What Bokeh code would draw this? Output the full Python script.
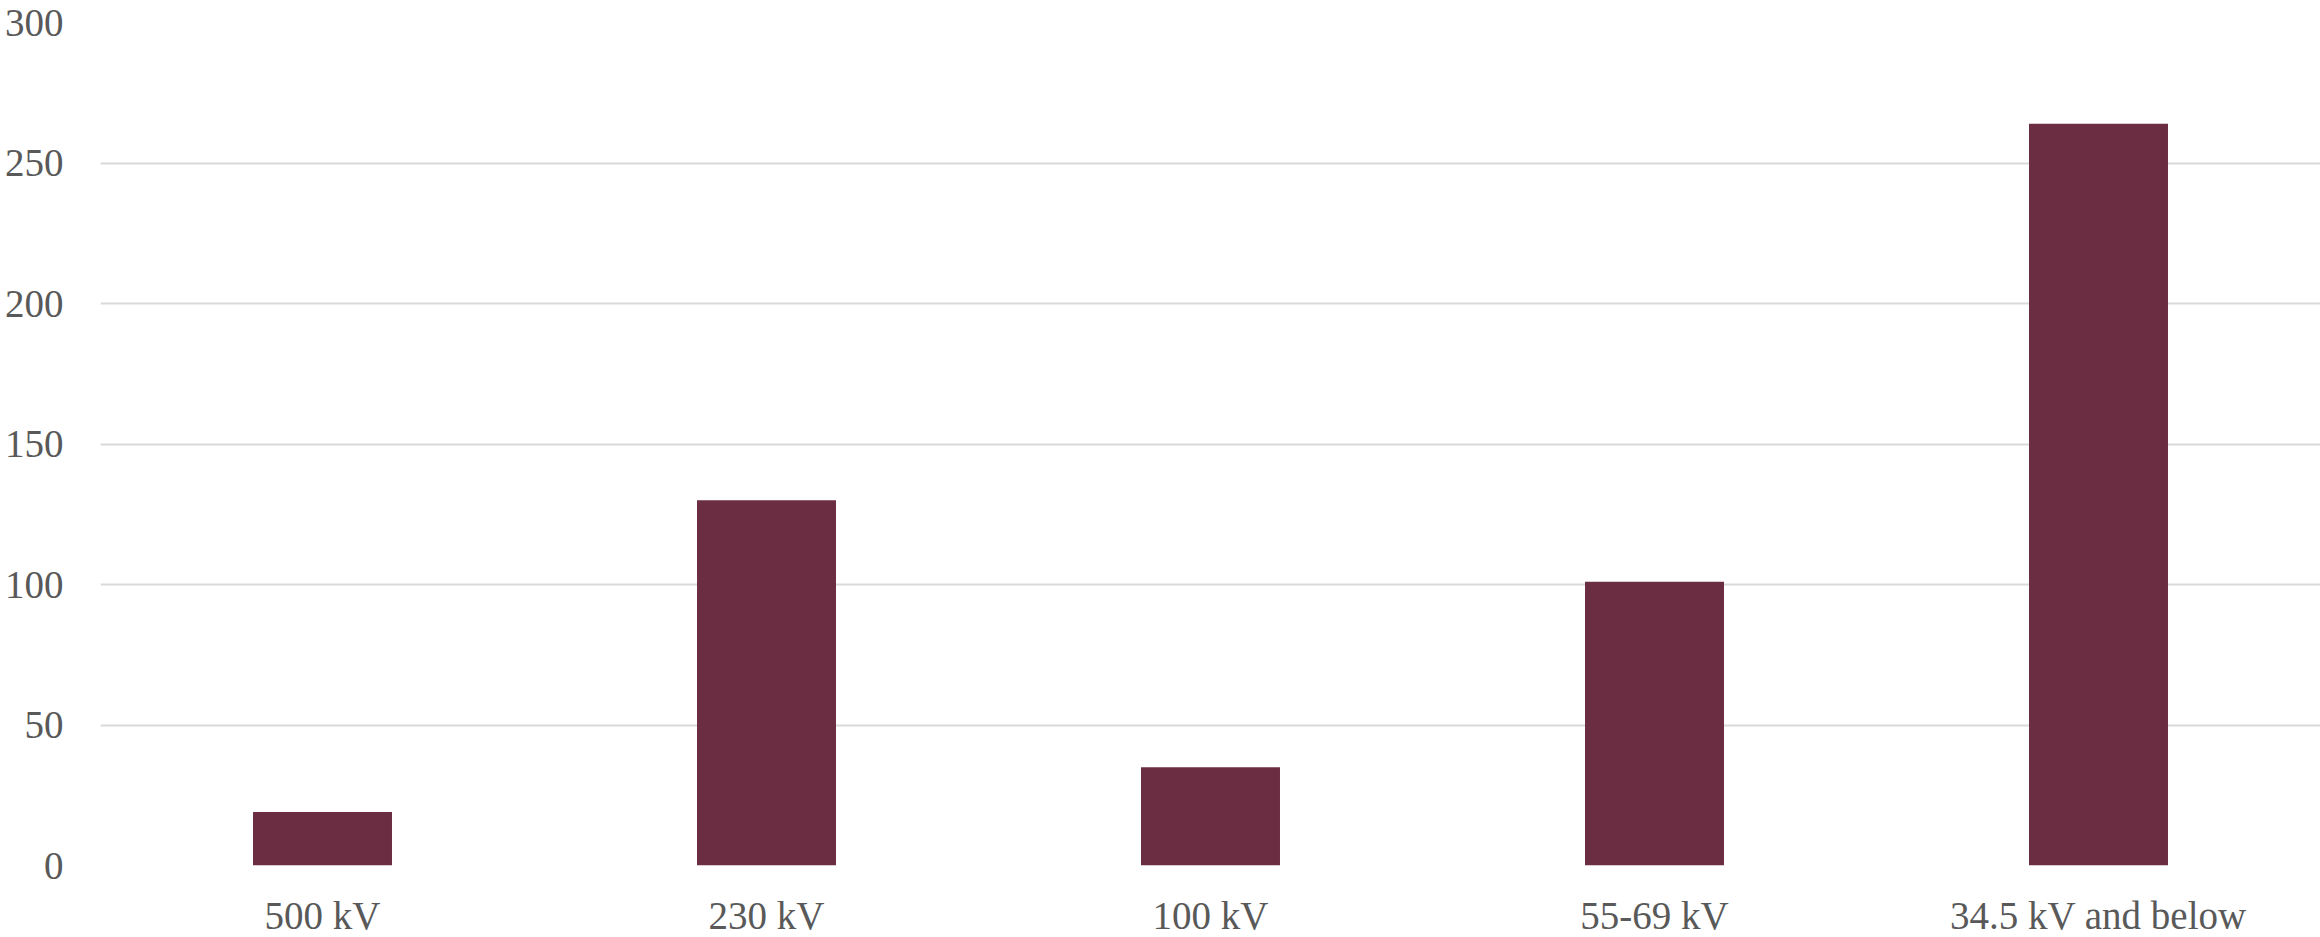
from bokeh.plotting import figure
from bokeh.models import Range1d, FixedTicker
from bokeh.embed import file_html
from bokeh.resources import INLINE

categories = ["500 kV", "230 kV", "100 kV", "55-69 kV", "34.5 kV and below"]
values = [19, 130, 35, 101, 264]
y_ticks = [0, 50, 100, 150, 200, 250, 300]

positions = list(range(len(categories)))

FRAME_W = 2220
CAT_PX = 444

p = figure(
    frame_width=FRAME_W, frame_height=843,
    output_backend="svg", toolbar_location=None,
    x_range=Range1d(-0.5, -0.5 + FRAME_W / CAT_PX),
    y_range=Range1d(0, 300),
)
p.min_border_left = 100
p.min_border_right = 0
p.min_border_top = 22
p.min_border_bottom = 0
p.outline_line_color = None
p.background_fill_color = "white"
p.border_fill_color = "white"

p.vbar(x=positions, top=values, width=0.313, fill_color="#6B2D41", line_color=None)

font = "Liberation Serif"
text_color = "#595959"

p.yaxis.ticker = FixedTicker(ticks=y_ticks)
p.xaxis.ticker = FixedTicker(ticks=positions)
p.xaxis.major_label_overrides = {i: c for i, c in enumerate(categories)}

for ax in (p.xaxis, p.yaxis):
    ax.axis_line_color = None
    ax.major_tick_line_color = None
    ax.minor_tick_line_color = None
    ax.major_tick_out = 0
    ax.major_tick_in = 0
    ax.major_label_text_font = font
    ax.major_label_text_font_size = "39px"
    ax.major_label_text_color = text_color

p.yaxis.major_label_standoff = 37
p.xaxis.major_label_standoff = 28

p.xgrid.grid_line_color = None
p.ygrid.ticker = FixedTicker(ticks=y_ticks)
p.ygrid.grid_line_color = "#D9D9D9"
p.ygrid.grid_line_width = 2

open("out.html", "w").write(file_html(p, INLINE))
